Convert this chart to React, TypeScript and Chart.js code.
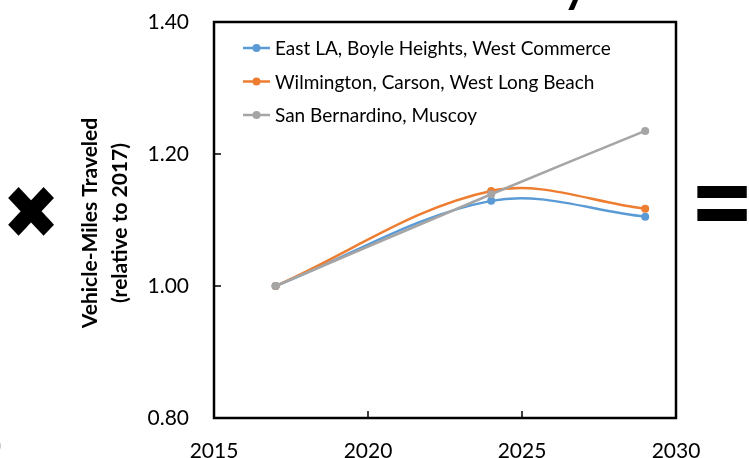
import React, { useEffect, useRef } from "react";
import { Chart, registerables } from "chart.js";

Chart.register(...registerables);

// Vehicle-miles traveled, relative to 2017
const years = [2017, 2024, 2029];
const eastLA = [1.0, 1.129, 1.105];
const wilmington = [1.0, 1.144, 1.117];
const sanBernardino = [1.0, 1.139, 1.235];

const seriesNames = [
  "East LA, Boyle Heights, West Commerce",
  "Wilmington, Carson, West Long Beach",
  "San Bernardino, Muscoy",
];
const seriesColors = ["#5B9BD5", "#ED7D31", "#A5A5A5"];

const xTickValues = [2015, 2020, 2025, 2030];
const yTickValues = [0.8, 1.0, 1.2, 1.4];
const yTitleLines = ["Vehicle-Miles Traveled", "(relative to 2017)"];

const FONT = "Lato, 'Open Sans', sans-serif";

function toPoints(values: number[]) {
  return years.map((x, i) => ({ x, y: values[i] }));
}

// Fits a glyph's ink box into a target rectangle.
function drawGlyphInBox(
  ctx: CanvasRenderingContext2D,
  glyph: string,
  font: string,
  x: number,
  y: number,
  w: number,
  h: number
) {
  ctx.save();
  ctx.font = font;
  ctx.textAlign = "left";
  ctx.textBaseline = "alphabetic";
  const m = ctx.measureText(glyph);
  const inkW = m.actualBoundingBoxLeft + m.actualBoundingBoxRight;
  const inkH = m.actualBoundingBoxAscent + m.actualBoundingBoxDescent;
  ctx.translate(x, y);
  ctx.scale(w / inkW, h / inkH);
  ctx.fillStyle = "#000";
  ctx.fillText(glyph, m.actualBoundingBoxLeft, m.actualBoundingBoxAscent);
  ctx.restore();
}

const decorations = {
  id: "decorations",
  afterDraw(chart: any) {
    const { ctx, chartArea, scales } = chart;
    const { left, right, top, bottom } = chartArea;

    // plot frame
    ctx.save();
    ctx.strokeStyle = "#000";
    ctx.lineWidth = 2.5;
    ctx.strokeRect(left, top, right - left, bottom - top);

    // inward tick marks
    ctx.lineWidth = 1.5;
    ctx.beginPath();
    yTickValues.forEach((v) => {
      const py = scales.y.getPixelForValue(v);
      ctx.moveTo(left, py);
      ctx.lineTo(left + 7, py);
    });
    xTickValues.forEach((v) => {
      const px = scales.x.getPixelForValue(v);
      ctx.moveTo(px, bottom);
      ctx.lineTo(px, bottom - 7);
    });
    ctx.stroke();
    ctx.restore();

    // legend inside the plot
    ctx.save();
    ctx.font = `19px ${FONT}`;
    ctx.textBaseline = "middle";
    ctx.textAlign = "left";
    seriesNames.forEach((name, i) => {
      const ly = top + 26 + i * 33.5;
      const lx = left + 29;
      ctx.strokeStyle = seriesColors[i];
      ctx.lineWidth = 2.5;
      ctx.beginPath();
      ctx.moveTo(lx, ly);
      ctx.lineTo(lx + 27, ly);
      ctx.stroke();
      ctx.fillStyle = seriesColors[i];
      ctx.beginPath();
      ctx.arc(lx + 13.5, ly, 4, 0, Math.PI * 2);
      ctx.fill();
      ctx.fillStyle = "#000";
      ctx.fillText(name, lx + 32, ly + 1);
    });
    ctx.restore();

    // y-axis title, two rotated lines
    ctx.save();
    ctx.fillStyle = "#000";
    ctx.font = `bold 21px ${FONT}`;
    ctx.textAlign = "center";
    ctx.textBaseline = "middle";
    const cy = (top + bottom) / 2 + 3;
    yTitleLines.forEach((line, i) => {
      ctx.save();
      ctx.translate(90 + i * 30, cy);
      ctx.rotate(-Math.PI / 2);
      ctx.fillText(line, 0, 0);
      ctx.restore();
    });
    ctx.restore();

    // operator glyphs either side of the chart
    drawGlyphInBox(ctx, "\u2716", "bold 60px 'DejaVu Sans'", 8, 187, 47, 50);
    drawGlyphInBox(ctx, "=", "bold 60px 'DejaVu Sans'", 697, 185, 50, 36);

    // neighbouring title and caption fragments
    ctx.save();
    ctx.fillStyle = "#000";
    ctx.font = `bold 46px ${FONT}`;
    ctx.textBaseline = "alphabetic";
    ctx.fillText("y", 563, 2);
    ctx.fillStyle = "#888";
    ctx.font = `20px ${FONT}`;
    ctx.fillText(")", -4, 452);
    ctx.restore();
  },
};

export default function App() {
  const canvasRef = useRef<HTMLCanvasElement | null>(null);

  useEffect(() => {
    if (!canvasRef.current) return;
    const datasets = [eastLA, wilmington, sanBernardino].map((vals, i) => ({
      label: seriesNames[i],
      data: toPoints(vals),
      borderColor: seriesColors[i],
      backgroundColor: seriesColors[i],
      borderWidth: 2.5,
      pointRadius: 4,
      pointBorderWidth: 0,
      tension: 0.35,
      fill: false,
      order: 3 - i,
    }));

    const chart = new Chart(canvasRef.current, {
      type: "line",
      data: { datasets },
      options: {
        responsive: false,
        maintainAspectRatio: false,
        animation: false,
        layout: { padding: { top: 22, right: 73, left: 0, bottom: 0 } },
        plugins: {
          legend: { display: false },
          tooltip: { enabled: false },
        },
        scales: {
          x: {
            type: "linear",
            min: 2015,
            max: 2030,
            afterBuildTicks: (scale: any) => {
              scale.ticks = xTickValues.map((value) => ({ value }));
            },
            ticks: {
              color: "#000",
              font: { family: FONT, size: 21 },
              padding: 13,
              maxRotation: 0,
              callback: (v: any) => String(v),
            },
            grid: { display: false },
            border: { display: false },
            afterFit: (scale: any) => {
              scale.height = 40;
              scale.paddingLeft = 0;
              scale.paddingRight = 0;
            },
          },
          y: {
            min: 0.8,
            max: 1.4,
            afterBuildTicks: (scale: any) => {
              scale.ticks = yTickValues.map((value) => ({ value }));
            },
            ticks: {
              color: "#000",
              font: { family: FONT, size: 21 },
              padding: 17,
              callback: (v: any) => Number(v).toFixed(2),
            },
            grid: { display: false },
            border: { display: false },
            afterFit: (scale: any) => {
              scale.width = 214;
              scale.paddingTop = 0;
              scale.paddingBottom = 0;
            },
          },
        },
      },
      plugins: [decorations],
    });
    return () => chart.destroy();
  }, []);

  return (
    <div
      style={{
        position: "fixed",
        left: 0,
        top: 0,
        width: 749,
        height: 458,
        background: "#fff",
      }}
    >
      <canvas ref={canvasRef} width={749} height={458} />
    </div>
  );
}
